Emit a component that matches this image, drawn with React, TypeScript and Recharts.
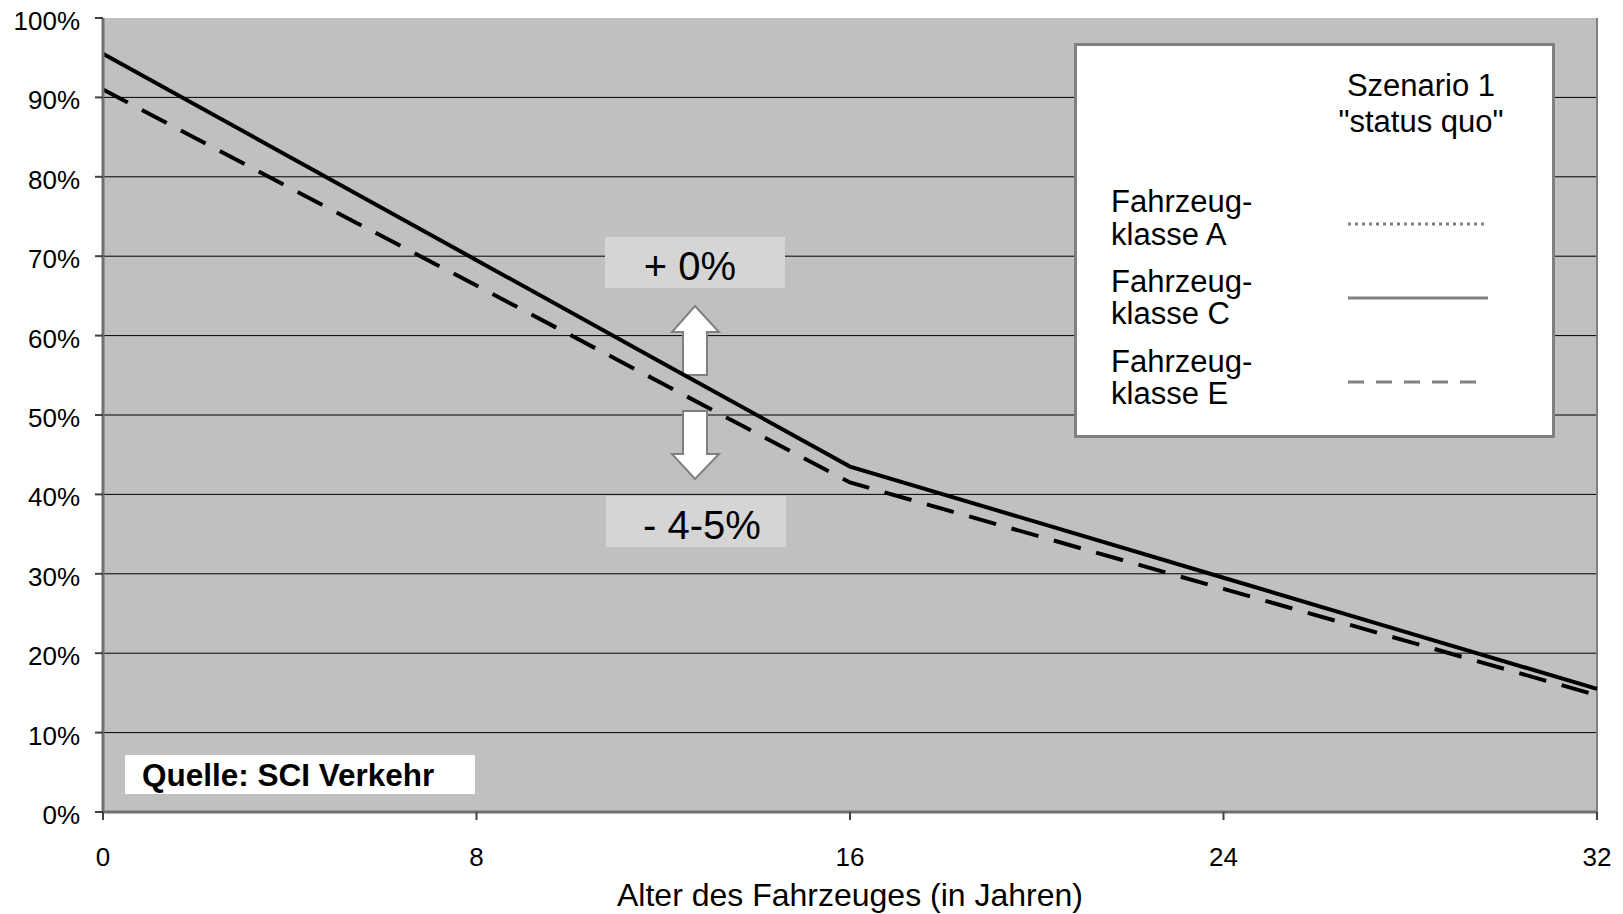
import { LineChart, Line, XAxis, YAxis, CartesianGrid, ReferenceLine, Customized, Label } from 'recharts';

const FONT = '"Liberation Sans", Arial, sans-serif';

// Alter des Fahrzeuges in Jahren
const years = [0, 4, 8, 12, 16, 20, 24, 28, 32];
// Restwert in % (Szenario 1 "status quo")
const klasseA = [95.5, 82.5, 69.5, 56.5, 43.5, 36.5, 29.5, 22.5, 15.5]; // liegt unter Klasse C
const klasseC = [95.5, 82.5, 69.5, 56.5, 43.5, 36.5, 29.5, 22.5, 15.5];
const klasseE = [91.0, 78.6, 66.3, 53.9, 41.5, 34.8, 28.1, 21.4, 14.7];

const xTicks = [0, 8, 16, 24, 32];
const yTicks = [0, 10, 20, 30, 40, 50, 60, 70, 80, 90, 100];
const gridValues = yTicks.filter((v) => v > 0 && v < 100);

const data = years.map((year, i) => ({
  year,
  a: klasseA[i],
  c: klasseC[i],
  e: klasseE[i],
}));

function XTick({ x, y, payload }: any) {
  return (
    <text x={x} y={y} dy={44} textAnchor="middle" fontSize={26} fontFamily={FONT} fill="#000">
      {payload.value}
    </text>
  );
}

function YTick({ x, y, payload }: any) {
  return (
    <text x={x} y={y} dx={-13} dy={12} textAnchor="end" fontSize={26} fontFamily={FONT} fill="#000">
      {payload.value}%
    </text>
  );
}

function Annotations() {
  return (
    <g fontFamily={FONT}>
      <rect x={605} y={237} width={180} height={51} fill="#d5d5d5" />
      <text x={690} y={280} textAnchor="middle" fontSize={40} fill="#000">+ 0%</text>
      <rect x={606} y={496} width={180} height={51} fill="#d5d5d5" />
      <text x={702} y={539} textAnchor="middle" fontSize={40} fill="#000">- 4-5%</text>

      <polygon points="695,306 719,332 707,332 707,375 683,375 683,332 672,332" fill="#fff" stroke="#808080" strokeWidth={2} />
      <polygon points="683,411 707,411 707,454 719,454 695,479 672,454 683,454" fill="#fff" stroke="#808080" strokeWidth={2} />

      <rect x={125} y={755} width={350} height={39} fill="#fff" />
      <text x={142} y={786} fontSize={31.5} fontWeight="bold" fill="#000">Quelle: SCI Verkehr</text>

      <rect x={1075.5} y={44.5} width={478} height={392} fill="#fff" stroke="#808080" strokeWidth={3} />
      <g fontSize={31} fill="#000">
        <text x={1421} y={96} textAnchor="middle">Szenario 1</text>
        <text x={1421} y={132} textAnchor="middle">"status quo"</text>
        <text x={1111} y={212}>Fahrzeug-</text>
        <text x={1111} y={245}>klasse A</text>
        <text x={1111} y={292}>Fahrzeug-</text>
        <text x={1111} y={324}>klasse C</text>
        <text x={1111} y={372}>Fahrzeug-</text>
        <text x={1111} y={404}>klasse E</text>
      </g>
      <line x1={1348} y1={224} x2={1488} y2={224} stroke="#808080" strokeWidth={3} strokeDasharray="3 4" />
      <line x1={1348} y1={298} x2={1488} y2={298} stroke="#808080" strokeWidth={3} />
      <line x1={1348} y1={382} x2={1488} y2={382} stroke="#808080" strokeWidth={3} strokeDasharray="16 12" />
    </g>
  );
}

export default function App() {
  return (
    <div style={{ position: 'absolute', left: 0, top: 0, width: 1623, height: 914, background: '#fff' }}>
      <LineChart width={1623} height={914} data={data} margin={{ top: 18, right: 26, left: 0, bottom: 0 }}>
        <CartesianGrid
          fill="#c0c0c0"
          fillOpacity={1}
          vertical={false}
          horizontalValues={gridValues}
          stroke="#000"
          strokeWidth={1}
          strokeOpacity={1}
        />
        <ReferenceLine x={32} stroke="#808080" strokeWidth={2} />
        <XAxis
          dataKey="year"
          type="number"
          domain={[0, 32]}
          ticks={xTicks}
          height={102}
          tickSize={8}
          tickMargin={2}
          tick={<XTick />}
          axisLine={{ stroke: '#707070', strokeWidth: 3 }}
          tickLine={{ stroke: '#404040', strokeWidth: 2 }}
        >
          <Label
            value="Alter des Fahrzeuges (in Jahren)"
            position="insideBottom"
            offset={8}
            style={{ fontSize: 32, fontFamily: FONT, fill: '#000' }}
          />
        </XAxis>
        <YAxis
          type="number"
          domain={[0, 100]}
          ticks={yTicks}
          width={103}
          tickSize={8}
          tickMargin={2}
          tick={<YTick />}
          axisLine={{ stroke: '#707070', strokeWidth: 3 }}
          tickLine={{ stroke: '#404040', strokeWidth: 2 }}
        />
        <Customized component={Annotations} />
        <Line dataKey="a" type="linear" stroke="#808080" strokeWidth={3} strokeDasharray="3 4" dot={false} isAnimationActive={false} />
        <Line dataKey="c" type="linear" stroke="#000" strokeWidth={4} dot={false} isAnimationActive={false} />
        <Line dataKey="e" type="linear" stroke="#000" strokeWidth={4} strokeDasharray="28 16" dot={false} isAnimationActive={false} />
      </LineChart>
    </div>
  );
}
